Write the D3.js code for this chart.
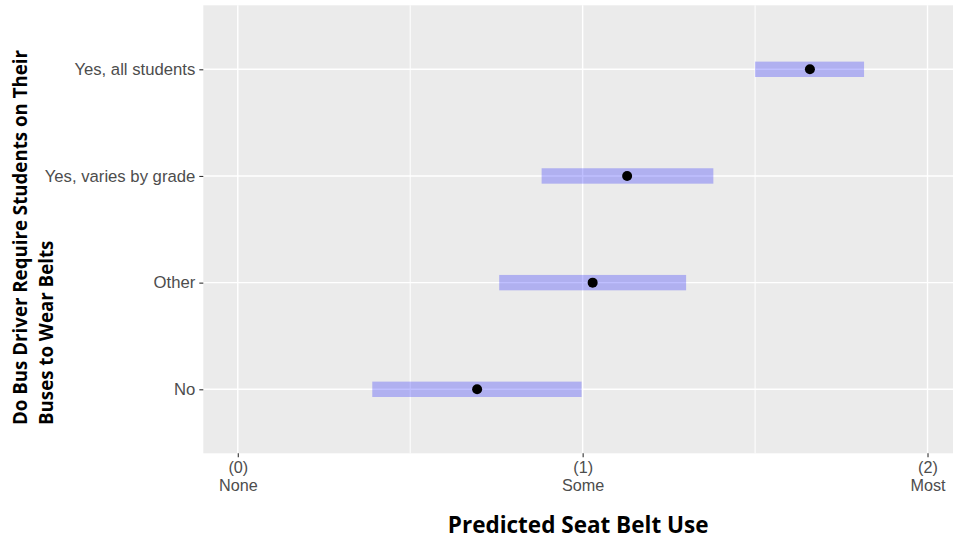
<!DOCTYPE html>
<html>
<head>
<meta charset="utf-8">
<script src="https://cdn.jsdelivr.net/npm/d3@7"></script>
<style>
  html, body { margin: 0; padding: 0; background: #ffffff; }
  svg { display: block; }
</style>
</head>
<body>
<svg id="chart" width="953" height="539"></svg>
<script>
// ---- data ----
const categories = ["No", "Other", "Yes, varies by grade", "Yes, all students"];
const estimate = [0.694, 1.029, 1.129, 1.659];
const lower = [0.390, 0.758, 0.881, 1.500];
const upper = [0.997, 1.300, 1.379, 1.816];
const xTickValues = [0, 1, 2];
const xTickLabels = [["(0)", "None"], ["(1)", "Some"], ["(2)", "Most"]];
const xMinorValues = [0.5, 1.5];
const xTitle = "Predicted Seat Belt Use";
const yTitleLines = ["Do Bus Driver Require Students on Their", "Buses to Wear Belts"];

// ---- layout ----
const W = 953, H = 539;
const panel = { left: 203.3, top: 5.3, right: 962, bottom: 453.3 };

const svg = d3.select("#chart");

const x = d3.scaleLinear().domain([-0.1, 2.1]).range([panel.left, panel.right]);
const y = d3.scalePoint().domain(categories.slice().reverse())
  .range([panel.top, panel.bottom]).padding(0.6);

// panel background
svg.append("rect")
  .attr("x", panel.left).attr("y", panel.top)
  .attr("width", panel.right - panel.left).attr("height", panel.bottom - panel.top)
  .attr("fill", "#ebebeb");

// grid
const grid = svg.append("g");
grid.selectAll(".minor").data(xMinorValues).join("line")
  .attr("x1", d => x(d)).attr("x2", d => x(d))
  .attr("y1", panel.top).attr("y2", panel.bottom)
  .attr("stroke", "#ffffff").attr("stroke-width", 1);
grid.selectAll(".majx").data(xTickValues).join("line")
  .attr("x1", d => x(d)).attr("x2", d => x(d))
  .attr("y1", panel.top).attr("y2", panel.bottom)
  .attr("stroke", "#ffffff").attr("stroke-width", 1.4);
grid.selectAll(".majy").data(categories).join("line")
  .attr("x1", panel.left).attr("x2", panel.right)
  .attr("y1", d => y(d)).attr("y2", d => y(d))
  .attr("stroke", "#ffffff").attr("stroke-width", 1.4);

// intervals
const rows = categories.map((c, i) => ({ c, est: estimate[i], lo: lower[i], hi: upper[i] }));
const barH = 15.4;
svg.append("g").selectAll("rect").data(rows).join("rect")
  .attr("x", d => x(d.lo)).attr("width", d => x(d.hi) - x(d.lo))
  .attr("y", d => y(d.c) - barH / 2).attr("height", barH)
  .attr("fill", "#0000ff").attr("fill-opacity", 0.25);

// points
svg.append("g").selectAll("circle").data(rows).join("circle")
  .attr("cx", d => x(d.est)).attr("cy", d => y(d.c)).attr("r", 5)
  .attr("fill", "#000000");

// y axis
const yAxis = d3.axisLeft(y).tickSize(4).tickPadding(4);
const gy = svg.append("g").attr("transform", `translate(${panel.left},0)`).call(yAxis);
gy.select(".domain").remove();
gy.selectAll(".tick line").attr("stroke", "#333333").attr("stroke-width", 1.1);
gy.selectAll(".tick text")
  .attr("fill", "#4d4d4d")
  .style("font-family", "'Liberation Sans', Arial, sans-serif")
  .style("font-size", "16.7px");

// x axis
const xAxis = d3.axisBottom(x).tickValues(xTickValues).tickSize(4).tickFormat("");
const gx = svg.append("g").attr("transform", `translate(0,${panel.bottom})`).call(xAxis);
gx.select(".domain").remove();
gx.selectAll(".tick line").attr("stroke", "#333333").attr("stroke-width", 1.1);
gx.selectAll(".tick").each(function(d, i) {
  const t = d3.select(this).append("text")
    .attr("fill", "#4d4d4d")
    .attr("text-anchor", "middle")
    .style("font-family", "'Liberation Sans', Arial, sans-serif")
    .style("font-size", "16.2px");
  xTickLabels[i].forEach((s, k) => {
    t.append("tspan").attr("x", 0).attr("y", 19.5 + k * 18.5).text(s);
  });
});

// axis titles
svg.append("text")
  .attr("x", (panel.left + W) / 2).attr("y", 533)
  .attr("text-anchor", "middle")
  .attr("fill", "#000000")
  .style("font-family", "'Open Sans', 'Noto Sans', sans-serif")
  .style("font-weight", "bold")
  .style("font-size", "22.5px")
  .text(xTitle);

const yt = svg.append("text")
  .attr("transform", "translate(0,425) rotate(-90)")
  .attr("text-anchor", "start")
  .attr("fill", "#000000")
  .style("font-family", "'Open Sans', 'Noto Sans', sans-serif")
  .style("font-weight", "bold")
  .style("font-size", "18.7px");
yTitleLines.forEach((s, k) => {
  yt.append("tspan").attr("x", 0).attr("y", 26.5 + k * 26).text(s);
});
</script>
</body>
</html>
